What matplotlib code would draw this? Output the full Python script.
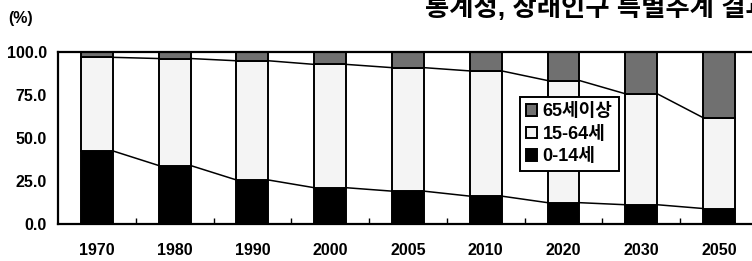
"""
연령계층별 인구구성비 (통계청, 장래인구 특별추계 결과)
"""
import matplotlib
matplotlib.use("Agg")
import matplotlib.pyplot as plt
import numpy as np

plt.rcParams["font.family"] = ["Liberation Sans", "Noto Sans CJK KR", "DejaVu Sans"]

YEARS = ["1970", "1980", "1990", "2000", "2005", "2010", "2020", "2030", "2050"]
AGE_0_14 = [42.5, 34.0, 25.6, 21.1, 19.1, 16.2, 12.4, 11.2, 9.0]
AGE_15_64 = [54.4, 62.2, 69.3, 71.7, 71.8, 72.8, 71.0, 64.5, 52.8]
AGE_65 = [3.1, 3.8, 5.1, 7.2, 9.1, 11.0, 16.6, 24.3, 38.2]
SERIES_LABELS = ["0-14세", "15-64세", "65세이상"]
Y_TICKS = [0, 25, 50, 75, 100]

W, H = 752, 261
BAR_W = 0.41

fig = plt.figure(figsize=(W / 100, H / 100), dpi=100)
ax = fig.add_axes([58 / W, 37 / H, 700 / W, 172 / H])

x = np.arange(len(YEARS))
low = np.array(AGE_0_14)
mid = np.array(AGE_15_64)
high = np.array(AGE_65)

b1 = ax.bar(x, low, BAR_W, color="black", edgecolor="black", linewidth=1.4,
            label=SERIES_LABELS[0])
b2 = ax.bar(x, mid, BAR_W, bottom=low, color="#f4f4f4", edgecolor="black",
            linewidth=1.4, label=SERIES_LABELS[1])
b3 = ax.bar(x, high, BAR_W, bottom=low + mid, color="#707070", edgecolor="black",
            linewidth=1.4, label=SERIES_LABELS[2])

# 계열선: 막대 오른쪽 끝에서 다음 막대 왼쪽 끝까지
for top in (low, low + mid):
    for i in range(len(x) - 1):
        ax.plot([x[i] + BAR_W / 2, x[i + 1] - BAR_W / 2], [top[i], top[i + 1]],
                color="black", linewidth=1.1)

ax.set_xlim(-0.5, len(YEARS) - 0.5)
ax.set_ylim(0, 100)
ax.set_yticks(Y_TICKS)
ax.set_yticklabels([f"{v:.1f}" for v in Y_TICKS], fontsize=11.5, fontweight="bold")
ax.set_xticks(x)
ax.set_xticklabels(YEARS, fontsize=11.5, fontweight="bold")
ax.tick_params(axis="x", length=0, pad=14)
ax.tick_params(axis="y", length=0, pad=8)
ax.set_xticks(x[:-1] + 0.5, minor=True)
ax.tick_params(axis="x", which="minor", direction="in", length=4, width=1)
for s in ax.spines.values():
    s.set_linewidth(1.6)

leg = ax.legend([b3, b2, b1], [SERIES_LABELS[2], SERIES_LABELS[1], SERIES_LABELS[0]],
                loc="upper left", bbox_to_anchor=(520 / W, 1 - 97 / H),
                bbox_transform=fig.transFigure, borderaxespad=0,
                prop={"size": 13, "weight": "bold"}, frameon=True, fancybox=False,
                handlelength=0.6, handleheight=0.6, handletextpad=0.3,
                labelspacing=0.3, borderpad=0.35, framealpha=1)
leg.get_frame().set_edgecolor("black")
leg.get_frame().set_linewidth(1.4)

fig.text(8 / W, 1 - 19 / H, "(%)", fontsize=11.5, fontweight="bold", va="center")
fig.text(425 / W, 1 - 8 / H, "통계청, 장래인구 특별추계 결과", fontsize=19,
         fontweight="bold", va="center", ha="left")

fig.savefig("out.png", dpi=100)
